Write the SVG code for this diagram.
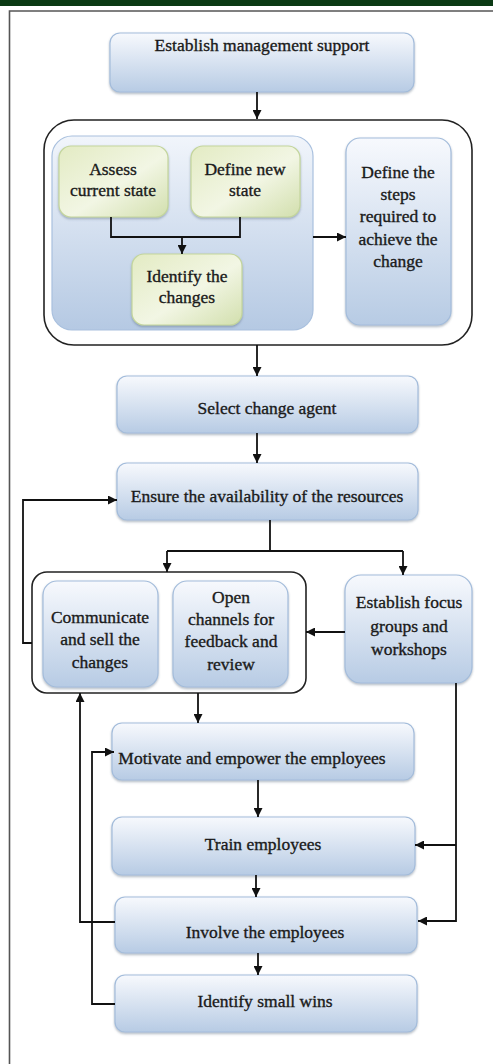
<svg xmlns="http://www.w3.org/2000/svg" width="493" height="1064" viewBox="0 0 493 1064">
<style>
.t{font-family:"Liberation Serif","Times New Roman",serif;font-size:17.5px;fill:#1a1a1a;text-anchor:middle;stroke:#1a1a1a;stroke-width:0.35}
.b{fill:url(#gb);stroke:#a3bcdb;stroke-width:1.2;filter:url(#sh)}
.g{fill:url(#gg);stroke:#c3d59c;stroke-width:1.2;filter:url(#sh)}
.c{fill:none;stroke:#111;stroke-width:1.8}
.ca{fill:none;stroke:#111;stroke-width:1.8;marker-end:url(#ah)}
.grp{fill:#fff;stroke:#222;stroke-width:1.6}
</style>
<defs>
<linearGradient id="gb" x1="0" y1="0" x2="0" y2="1"><stop offset="0" stop-color="#f7f9fd"/><stop offset="1" stop-color="#b7cbe4"/></linearGradient>
<linearGradient id="gi" x1="0" y1="0" x2="0" y2="1"><stop offset="0" stop-color="#f1f5fb"/><stop offset="1" stop-color="#b5c9e3"/></linearGradient>
<linearGradient id="gg" x1="0" y1="0" x2="1" y2="1"><stop offset="0" stop-color="#e3ebc3"/><stop offset="0.55" stop-color="#f2f6e4"/><stop offset="1" stop-color="#d2dfad"/></linearGradient>
<filter id="sh" x="-10%" y="-10%" width="120%" height="130%"><feDropShadow dx="0" dy="1.5" stdDeviation="1.2" flood-color="#55657a" flood-opacity="0.45"/></filter>
<marker id="ah" markerUnits="userSpaceOnUse" markerWidth="9" markerHeight="9" refX="9" refY="4.5" orient="auto"><path d="M0,0 L9,4.5 L0,9 z" fill="#111"/></marker>
</defs>
<rect x="0" y="0" width="493" height="1064" fill="#fff"/>
<rect x="0" y="0" width="493" height="6" fill="#0b3a14"/>
<path d="M493 11 H9.5 V1064" fill="none" stroke="#555" stroke-width="1.6"/>

<g id="n-mgmt"><rect class="b" x="110" y="33" width="304" height="59" rx="10"/><text class="t" x="262" y="51">Establish management support</text></g>

<g id="g-plan"><rect class="grp" x="44" y="120" width="428" height="225" rx="30"/>
<rect x="52" y="136" width="261" height="194" rx="20" fill="url(#gi)" stroke="#a9c0de" stroke-width="1.2"/></g>
<g id="n-assess"><rect class="g" x="59" y="146" width="109" height="71" rx="12"/><text class="t" x="113" y="175">Assess</text><text class="t" x="113" y="196">current state</text></g>
<g id="n-define"><rect class="g" x="191" y="146" width="109" height="71" rx="12"/><text class="t" x="245" y="175">Define new</text><text class="t" x="245" y="196">state</text></g>
<g id="n-identify"><rect class="g" x="132" y="254" width="110" height="71" rx="12"/><text class="t" x="187" y="282">Identify the</text><text class="t" x="187" y="303">changes</text></g>
<g id="n-steps"><rect class="b" x="346" y="138" width="105" height="187" rx="14"/><text class="t" x="398" y="178">Define the</text><text class="t" x="398" y="200">steps</text><text class="t" x="398" y="222">required to</text><text class="t" x="398" y="245">achieve the</text><text class="t" x="398" y="267">change</text></g>

<g id="n-agent"><rect class="b" x="117" y="376" width="301" height="57" rx="10"/><text class="t" x="267" y="414">Select change agent</text></g>
<g id="n-resources"><rect class="b" x="117" y="463" width="301" height="57" rx="10"/><text class="t" x="267" y="502">Ensure the availability of the resources</text></g>

<g id="g-comm"><rect class="grp" x="32" y="572" width="274" height="121" rx="15"/></g>
<g id="n-communicate"><rect class="b" x="43" y="581" width="115" height="106" rx="14"/><text class="t" x="100" y="623">Communicate</text><text class="t" x="100" y="645">and sell the</text><text class="t" x="100" y="668">changes</text></g>
<g id="n-open"><rect class="b" x="173" y="581" width="115" height="106" rx="14"/><text class="t" x="231" y="603">Open</text><text class="t" x="231" y="625">channels for</text><text class="t" x="231" y="647">feedback and</text><text class="t" x="231" y="670">review</text></g>
<g id="n-focus"><rect class="b" x="345" y="575" width="127" height="108" rx="16"/><text class="t" x="409" y="608">Establish focus</text><text class="t" x="409" y="632">groups and</text><text class="t" x="409" y="655">workshops</text></g>

<g id="n-motivate"><rect class="b" x="112" y="723" width="302" height="57" rx="10"/><text class="t" x="252" y="764">Motivate and empower the employees</text></g>
<g id="n-train"><rect class="b" x="112" y="817" width="303" height="58" rx="10"/><text class="t" x="263" y="850">Train employees</text></g>
<g id="n-involve"><rect class="b" x="115" y="897" width="302" height="56" rx="10"/><text class="t" x="265" y="938">Involve the employees</text></g>
<g id="n-wins"><rect class="b" x="115" y="975" width="302" height="57" rx="10"/><text class="t" x="265" y="1007">Identify small wins</text></g>

<g id="connectors">
<path class="ca" d="M257 92 V119"/>
<path class="c" d="M111 217 V237 H240 V217"/>
<path class="ca" d="M182 237 V254"/>
<path class="ca" d="M313 237 H346"/>
<path class="ca" d="M257 345 V376"/>
<path class="ca" d="M257 433 V463"/>
<path class="c" d="M270 520 V551"/>
<path class="c" d="M167 551 H403"/>
<path class="ca" d="M167 551 V572"/>
<path class="ca" d="M403 551 V575"/>
<path class="ca" d="M32 643 H23 V500 H117"/>
<path class="ca" d="M345 632 H306"/>
<path class="ca" d="M198 693 V723"/>
<path class="ca" d="M456 683 V921 H418"/>
<path class="ca" d="M456 845 H415"/>
<path class="ca" d="M258 780 V817"/>
<path class="ca" d="M256 875 V897"/>
<path class="ca" d="M258 953 V975"/>
<path class="ca" d="M115 922 H80 V693"/>
<path class="ca" d="M115 1004 H92 V752 H114"/>
</g>
</svg>
